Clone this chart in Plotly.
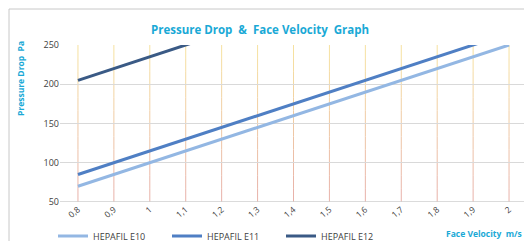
import plotly.graph_objects as go

velocity = [0.8, 0.9, 1.0, 1.1, 1.2, 1.3, 1.4, 1.5, 1.6, 1.7, 1.8, 1.9, 2.0]
tick_labels = ["0,8", "0,9", "1", "1,1", "1,2", "1,3", "1,4", "1,5", "1,6", "1,7", "1,8", "1,9", "2"]
e10 = [70, 85, 100, 115, 130, 145, 160, 175, 190, 205, 220, 235, 250]
e11 = [85, 100, 115, 130, 145, 160, 175, 190, 205, 220, 235, 250, 265]
e12 = [205, 220, 235, 250, 265, 280, 295, 310, 325, 340, 355, 370, 385]

W, H = 532, 241
OFF = 8  # page body margin offset
# desired plot area in screen pixels: x 60..527, y 45..202
L, T = 60 - OFF, 45 - OFF
R, B = W - (527 - OFF), H - (202 - OFF)
pw, ph = W - L - R, H - T - B

def px(x):
    return (x - OFF - L) / pw

def py(y):
    return (H - B - (y - OFF)) / ph

CYAN = "#1aa9d6"
FONT = "Open Sans"

fig = go.Figure()
fig.add_trace(go.Scatter(x=velocity, y=e10, mode="lines", name="HEPAFIL E10",
                         line=dict(color="#93b7e3", width=3)))
fig.add_trace(go.Scatter(x=velocity, y=e11, mode="lines", name="HEPAFIL E11",
                         line=dict(color="#4f7fc4", width=3)))
fig.add_trace(go.Scatter(x=velocity, y=e12, mode="lines", name="HEPAFIL E12",
                         line=dict(color="#3a5a85", width=3)))

shapes = []
nseg = 12
top_c = (247, 228, 160)
bot_c = (232, 176, 170)
for v in velocity:
    for i in range(nseg):
        t = i / nseg
        c = tuple(int(bot_c[k] + (top_c[k] - bot_c[k]) * (t + 0.5 / nseg)) for k in range(3))
        shapes.append(dict(type="line", xref="x", yref="paper", x0=v, x1=v,
                           y0=t, y1=(i + 1) / nseg,
                           line=dict(color="rgb(%d,%d,%d)" % c, width=1), layer="below"))
shapes.append(dict(type="rect", xref="paper", yref="paper",
                   x0=px(9), x1=px(560), y0=py(260), y1=py(9),
                   line=dict(color="#c8c8c8", width=1), layer="above"))

fig.update_layout(
    width=W, height=H,
    margin=dict(l=L, r=R, t=T, b=B, autoexpand=False),
    paper_bgcolor="white", plot_bgcolor="white",
    font=dict(family=FONT, size=9, color="#404040"),
    showlegend=True,
    legend=dict(orientation="h", x=px(53), xanchor="left", y=py(236), yanchor="middle",
                font=dict(size=9, color="#404040"), entrywidth=69, entrywidthmode="pixels",
                itemwidth=30, bgcolor="rgba(0,0,0,0)", tracegroupgap=0),
    xaxis=dict(range=[0.75, 2.05], tickmode="array", tickvals=velocity, ticktext=tick_labels,
               tickangle=-40, showgrid=False, zeroline=False, showline=False, automargin=False,
               tickfont=dict(size=8.5, color="#404040"), ticks=""),
    yaxis=dict(range=[50, 250], dtick=50, showgrid=True, gridcolor="#d9d9d9", automargin=False,
               zeroline=False, showline=False, ticks="",
               tickfont=dict(size=9, color="#404040")),
    shapes=shapes,
    annotations=[
        dict(text="<b>Pressure Drop  &  Face Velocity  Graph</b>", xref="paper", yref="paper",
             x=px(260), y=py(29), xanchor="center", yanchor="middle", showarrow=False,
             font=dict(size=11.5, color=CYAN, family=FONT)),
        dict(text="<b>Pressure Drop  Pa</b>", xref="paper", yref="paper", textangle=-90,
             x=px(20), y=py(79), xanchor="center", yanchor="middle", showarrow=False,
             font=dict(size=8.5, color=CYAN, family=FONT)),
        dict(text="<b>Face Velocity  m/s</b>", xref="paper", yref="paper",
             x=px(484), y=py(233), xanchor="center", yanchor="middle", showarrow=False,
             font=dict(size=8.5, color=CYAN, family=FONT)),
    ],
)
fig.add_hline(y=50, line=dict(color="#cfcfcf", width=1.5), layer="below")

fig.write_html("out.html")
